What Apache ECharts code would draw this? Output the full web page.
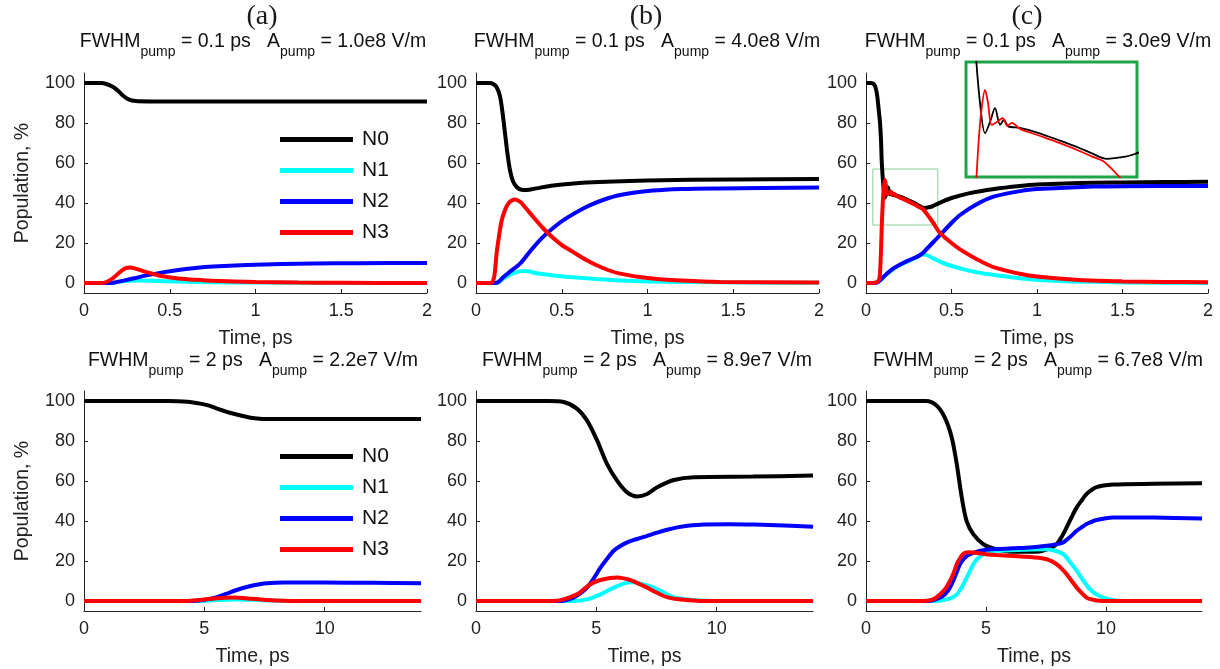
<!DOCTYPE html>
<html>
<head>
<meta charset="utf-8">
<title>Population dynamics</title>
<script src="https://cdn.jsdelivr.net/npm/echarts@6/dist/echarts.min.js"></script>
<style>
  html, body { margin: 0; padding: 0; background: #fff; }
  #main { width: 1220px; height: 669px; }
</style>
</head>
<body>
<div id="main"></div>
<script>
// ---- data: [time, population %] ----
// (a) top: FWHM 0.1 ps, A 1.0e8
var a1_N0 = [[0,100],[0.1,100],[0.13,99.5],[0.17,98],[0.2,96],[0.23,93.5],[0.26,91.8],[0.3,91],[0.4,90.8],[1,90.8],[2,90.8]];
var a1_N1 = [[0,0],[0.15,0],[0.22,0.8],[0.3,1.3],[0.4,1.1],[0.55,0.7],[0.75,0.4],[1,0.2],[1.5,0.05],[2,0]];
var a1_N2 = [[0,0],[0.14,0],[0.18,0.3],[0.23,1.2],[0.3,2.5],[0.365,3.8],[0.45,5.2],[0.56,6.6],[0.65,7.5],[0.754,8.2],[0.95,9],[1.15,9.5],[1.34,9.8],[1.6,9.9],[2,10]];
var a1_N3 = [[0,0],[0.1,0],[0.13,0.5],[0.17,2.5],[0.21,5.5],[0.24,7.3],[0.27,7.7],[0.3,7.2],[0.35,5.8],[0.4,4.6],[0.46,3.4],[0.55,2.3],[0.65,1.6],[0.75,1.1],[1,0.5],[1.25,0.2],[1.5,0.1],[2,0]];

// (b) top: FWHM 0.1 ps, A 4.0e8
var b1_N0 = [[0,100],[0.08,100],[0.1,99.5],[0.12,98],[0.14,93.3],[0.155,85],[0.169,75],[0.183,65],[0.198,56.5],[0.215,51],[0.237,48],[0.265,46.6],[0.295,46.5],[0.35,47.3],[0.45,48.8],[0.645,50.3],[1,51.3],[1.5,51.8],[2,52]];
var b1_N1 = [[0,0],[0.11,0],[0.13,0.3],[0.16,2.2],[0.2,4.3],[0.257,5.8],[0.29,6],[0.354,4.9],[0.45,3.8],[0.548,3],[0.7,2],[0.84,1.3],[1,0.8],[1.23,0.5],[1.6,0.2],[2,0.1]];
var b1_N2 = [[0,0],[0.11,0],[0.13,0.5],[0.16,3],[0.2,5.8],[0.257,9.7],[0.3,14.2],[0.354,19.7],[0.412,24.7],[0.51,31.4],[0.645,38.1],[0.74,41.5],[0.84,44],[1.03,46.2],[1.2,47],[1.42,47.3],[2,47.7]];
var b1_N3 = [[0,0],[0.085,0],[0.098,0.8],[0.108,4],[0.12,14.7],[0.135,24],[0.15,31.4],[0.165,35.5],[0.18,38.5],[0.2,40.8],[0.227,41.8],[0.257,40.6],[0.29,37.5],[0.334,33],[0.39,27.5],[0.45,22.5],[0.5,19],[0.56,15.8],[0.645,11.4],[0.74,7.5],[0.84,4.7],[1.03,2.2],[1.2,1.2],[1.42,0.5],[2,0.2]];

// (c) top: FWHM 0.1 ps, A 3.0e9
var c1_N0 = [[0,100],[0.03,100],[0.045,99.5],[0.055,98],[0.065,94],[0.075,86],[0.082,80],[0.088,71],[0.092,61],[0.101,49.1],[0.1106,42.7],[0.12,45],[0.1293,47.8],[0.1387,44.4],[0.1462,45.4],[0.1542,44.1],[0.176,43.8],[0.21,42.8],[0.251,41.2],[0.285,39.8],[0.313,38.5],[0.338,37.5],[0.376,38],[0.3915,38.5],[0.45,40.8],[0.5,42.5],[0.6,44.8],[0.75,47],[0.9,48.5],[1,49.2],[1.25,50],[1.5,50.3],[1.75,50.5],[2,50.6]];
var c1_N1 = [[0,0],[0.05,0],[0.07,0.4],[0.09,1.8],[0.12,4.3],[0.16,7],[0.2,9],[0.25,11],[0.3,13],[0.33,14.3],[0.355,14],[0.4,12],[0.45,10],[0.55,7.3],[0.65,5.3],[0.75,4],[0.94,2],[1.13,1],[1.5,0.3],[2,0]];
var c1_N2 = [[0,0],[0.05,0],[0.07,0.5],[0.09,2],[0.12,4.5],[0.16,7.3],[0.2,9.3],[0.25,11.3],[0.3,13.2],[0.33,14.8],[0.355,17],[0.4,21],[0.433,24],[0.5,30],[0.55,34],[0.65,39.5],[0.75,43.3],[0.94,46.5],[1,47],[1.33,48.2],[1.5,48.4],[2,48.5]];
var c1_N3 = [[0,0],[0.04,0],[0.06,0.3],[0.072,1],[0.08,3],[0.086,12],[0.092,28],[0.098,40],[0.104,47.5],[0.1106,51.5],[0.116,49],[0.123,44.4],[0.133,45],[0.1437,45.8],[0.1523,44.2],[0.1606,44.8],[0.176,43.6],[0.21,42.3],[0.251,40.7],[0.285,39.2],[0.31,38],[0.332,37],[0.357,34.4],[0.39,30.5],[0.433,25],[0.5,20],[0.55,16.8],[0.65,11.8],[0.75,7.8],[0.9,4.6],[1,3.2],[1.25,1.5],[1.5,0.8],[1.75,0.5],[2,0.4]];

// (a) bottom: FWHM 2 ps, A 2.2e7
var a2_N0 = [[0,100],[3.5,100],[4.3,99.6],[4.83,98.7],[5.2,97.7],[5.53,96.2],[5.9,94.7],[6.22,93.6],[6.6,92.5],[6.92,91.6],[7.3,91.1],[7.6,91],[9,91],[14,91]];
var a2_N1 = [[0,0],[4.8,0],[5.5,0.5],[6.3,0.8],[7,0.6],[7.8,0.2],[8.5,0],[14,0]];
var a2_N2 = [[0,0],[4.3,0],[4.8,0.3],[5.1,0.8],[5.4,1.5],[5.67,2.5],[6,4],[6.22,5],[6.6,6.5],[6.92,7.5],[7.3,8.4],[7.6,8.9],[8.3,9.2],[10,9.2],[12,9.1],[14,8.9]];
var a2_N3 = [[0,0],[4.2,0],[4.8,0.5],[5.4,1.3],[6.2,1.7],[7,1.1],[7.6,0.5],[8.3,0.1],[9,0],[14,0]];

// (b) bottom: FWHM 2 ps, A 8.9e7
var b2_N0 = [[0,100],[3,100],[3.64,99.5],[4.19,96.2],[4.61,90.3],[5.03,80.3],[5.44,68.6],[5.86,60.2],[6.28,54.3],[6.69,52.3],[7.11,53.5],[7.53,56.9],[8.22,60.5],[9.06,61.9],[11.5,62.2],[14,62.7]];
var b2_N1 = [[0,0],[4,0],[4.61,0.8],[5.17,3.3],[5.72,6.7],[6.28,9.2],[6.5,9.4],[6.69,9.2],[7.05,8],[7.39,6.7],[7.75,4.5],[8.08,2.5],[8.4,1.4],[8.78,0.8],[9.3,0.2],[10,0],[14,0]];
var b2_N2 = [[0,0],[3.5,0],[4.05,1.7],[4.3,3.5],[4.61,6.7],[4.9,11.5],[5.17,16.7],[5.44,21],[5.72,25.1],[6,27.5],[6.28,29.3],[6.69,31],[7.11,32.6],[7.53,34.2],[7.94,35.6],[8.36,36.8],[8.78,37.6],[9.47,38.3],[10.5,38.4],[11.56,38.2],[12.8,37.7],[14,37.1]];
var b2_N3 = [[0,0],[3.2,0],[3.64,0.8],[4.19,3.3],[4.47,5.8],[4.75,8.4],[5.03,10],[5.31,10.9],[5.58,11.5],[5.86,11.7],[6.14,11.3],[6.42,10.4],[6.75,8.7],[7.11,6.7],[7.45,4.5],[7.8,2.5],[8.15,1.3],[8.5,0.8],[9,0.3],[9.5,0],[14,0]];

// (c) bottom: FWHM 2 ps, A 6.7e8
var c2_N0 = [[0,100],[2.5,100],[2.94,97.8],[3.29,91.6],[3.57,81.9],[3.78,68.6],[3.99,51.8],[4.19,40.1],[4.47,33.4],[4.89,28.4],[5.44,25.9],[6.14,24.6],[7.11,24.6],[7.6,26],[7.94,28.4],[8.15,32],[8.36,36.8],[8.57,42],[8.78,46.8],[9,50.5],[9.19,53.5],[9.61,56.9],[10.3,58.2],[12,58.6],[14,58.9]];
var c2_N1 = [[0,0],[3,0],[3.36,0.8],[3.6,1.8],[3.78,3.3],[3.92,5.5],[4.06,8.4],[4.25,13],[4.47,18.4],[4.68,21.5],[4.89,23.4],[5.15,24.5],[5.44,25.1],[6.5,25.6],[7.53,25.9],[7.9,25],[8.22,23.4],[8.5,19.5],[8.78,15.1],[9.05,10.3],[9.33,5.9],[9.6,3.3],[9.89,1.7],[10.4,0.3],[11,0],[14,0]];
var c2_N2 = [[0,0],[2.6,0],[3.08,1.7],[3.3,3.5],[3.5,6.7],[3.7,12],[3.92,18.4],[4.1,21.5],[4.33,23.4],[4.6,24.6],[4.89,25.4],[5.5,26],[6.14,26.4],[6.83,26.8],[7.53,27.6],[7.9,28.3],[8.22,29.3],[8.5,32],[8.78,35.1],[9,37],[9.19,38.5],[9.61,40.5],[10.3,41.8],[12,41.7],[14,41.3]];
var c2_N3 = [[0,0],[2.4,0],[2.8,0.8],[3.08,3.3],[3.3,6],[3.5,10],[3.65,14],[3.78,18.4],[3.92,21.5],[4.06,23.7],[4.25,24.4],[4.47,24.2],[5,23.4],[5.44,23],[6.14,22.5],[6.83,22],[7.2,21.6],[7.53,20.9],[7.75,19.8],[7.94,18.4],[8.15,16.2],[8.36,13.4],[8.57,10],[8.78,6.7],[9,3.8],[9.19,1.7],[9.4,0.8],[9.61,0.3],[10,0],[14,0]];

var names = ['N0', 'N1', 'N2', 'N3'];
var colors = ['#000000', '#00ffff', '#0000ff', '#ff0000'];
var tickShort = [0, 0.5, 1, 1.5, 2];
var tickLong = [0, 5, 10];
var tickY = [0, 20, 40, 60, 80, 100];
var letters = ['(a)', '(b)', '(c)'];
var fwhm = ['0.1 ps', '0.1 ps', '0.1 ps', '2 ps', '2 ps', '2 ps'];
var amp = ['1.0e8', '4.0e8', '3.0e9', '2.2e7', '8.9e7', '6.7e8'];
// green box in (c) top and the range shown in the inset
var zoomBox = [[0.04, 29], [0.42, 57]];
var insetX = [0.075, 0.395];
var insetY = [33.8, 57.2];

var panelData = [
  [a1_N0, a1_N1, a1_N2, a1_N3], [b1_N0, b1_N1, b1_N2, b1_N3], [c1_N0, c1_N1, c1_N2, c1_N3],
  [a2_N0, a2_N1, a2_N2, a2_N3], [b2_N0, b2_N1, b2_N2, b2_N3], [c2_N0, c2_N1, c2_N2, c2_N3]
];

var FF = '"Liberation Sans", Arial, sans-serif';
var gridLeft = [84, 476, 866];
var myChart = echarts.init(document.getElementById('main'));

var grids = [], xAxes = [], yAxes = [], series = [], graphics = [];

for (var p = 0; p < 6; p++) {
  var row = Math.floor(p / 3), col = p % 3;
  var gTop = row === 0 ? 73 : 391;
  var gW = row === 0 ? (col === 2 ? 342 : 343) : (col === 2 ? 336 : 337);
  grids.push({ left: gridLeft[col], top: gTop, width: gW, height: 220, containLabel: false, outerBoundsMode: 'none' });
  var ticks = row === 0 ? tickShort : tickLong;
  xAxes.push({
    type: 'value', gridIndex: p, min: 0, max: row === 0 ? 2 : 14,
    axisLine: { show: true, onZero: false, lineStyle: { color: '#222', width: 1 } },
    axisTick: { show: true, inside: true, length: 4, customValues: ticks, lineStyle: { color: '#222' } },
    axisLabel: { customValues: ticks, fontSize: 18, fontFamily: FF, color: '#222', margin: 9 },
    splitLine: { show: false },
    name: 'Time, ps', nameLocation: 'middle', nameGap: 36,
    nameTextStyle: { fontSize: 19.5, fontFamily: FF, color: '#222' }
  });
  yAxes.push({
    type: 'value', gridIndex: p, min: -5, max: 105,
    axisLine: { show: true, onZero: false, lineStyle: { color: '#222', width: 1 } },
    axisTick: { show: true, inside: true, length: 4, customValues: tickY, lineStyle: { color: '#222' } },
    axisLabel: { customValues: tickY, fontSize: 18, fontFamily: FF, color: '#222', margin: 9 },
    splitLine: { show: false },
    name: col === 0 ? 'Population, %' : '', nameLocation: 'middle', nameGap: 51,
    nameTextStyle: { fontSize: 19.5, fontFamily: FF, color: '#222' }
  });
  for (var k = 0; k < 4; k++) {
    var s = {
      type: 'line', name: names[k], xAxisIndex: p, yAxisIndex: p,
      data: panelData[p][k], showSymbol: false, smooth: 0.3,
      color: colors[k], lineStyle: { width: 4, color: colors[k] }, silent: true
    };
    if (p === 2 && k === 0) {
      s.markArea = {
        silent: true,
        itemStyle: { color: 'rgba(0,0,0,0)', borderColor: '#86d494', borderWidth: 1 },
        data: [[{ coord: zoomBox[0] }, { coord: zoomBox[1] }]]
      };
    }
    series.push(s);
  }
  graphics.push({
    type: 'text', x: [253, 647, 1038][col], y: row === 0 ? 32 : 351, z: 10,
    style: {
      text: '{n|FWHM}{s|pump}{n| = ' + fwhm[p] + '   A}{s|pump}{n| = ' + amp[p] + ' V/m}',
      align: 'center', verticalAlign: 'top', textAlign: 'center', textVerticalAlign: 'top',
      rich: {
        n: { fontSize: 19.5, fontFamily: FF, fill: '#111', lineHeight: 21, verticalAlign: 'top' },
        s: { fontSize: 14, fontFamily: FF, fill: '#111', lineHeight: 15, verticalAlign: 'top', padding: [13, 0, 0, 0] }
      }
    }
  });
}

// inset grid (index 6) zooming into the early part of (c) top
grids.push({ left: 966, top: 62, width: 171, height: 115, show: true, backgroundColor: '#fff',
  borderColor: '#1ea54a', borderWidth: 3, containLabel: false, outerBoundsMode: 'none' });
xAxes.push({ type: 'value', gridIndex: 6, min: insetX[0], max: insetX[1], show: false });
yAxes.push({ type: 'value', gridIndex: 6, min: insetY[0], max: insetY[1], show: false });
[0, 3].forEach(function (k) {
  series.push({
    type: 'line', name: names[k], xAxisIndex: 6, yAxisIndex: 6, data: panelData[2][k],
    showSymbol: false, smooth: 0.3, clip: true, z: 5, silent: true,
    color: colors[k], lineStyle: { width: 1.8, color: colors[k] }
  });
});

for (var c = 0; c < 3; c++) {
  graphics.push({
    type: 'text', x: [262, 646, 1027][c], y: 3,
    style: { text: letters[c], fontSize: 28, fontFamily: '"Liberation Serif", "Times New Roman", serif',
      fill: '#1a1a1a', align: 'center', textAlign: 'center', verticalAlign: 'top', textVerticalAlign: 'top' }
  });
}

function legendAt(legendTop) {
  return {
    data: names, orient: 'vertical', left: 280, top: legendTop, padding: 0,
    icon: 'rect', itemWidth: 73, itemHeight: 5, itemGap: 10, selectedMode: false,
    textStyle: { fontSize: 21, fontFamily: FF, color: '#111', lineHeight: 21, padding: [0, 0, 0, 4] }
  };
}

var option = {
  animation: false,
  backgroundColor: '#fff',
  legend: [legendAt(129), legendAt(446)],
  grid: grids,
  xAxis: xAxes,
  yAxis: yAxes,
  series: series,
  graphic: graphics
};

myChart.setOption(option);
</script>
</body>
</html>
